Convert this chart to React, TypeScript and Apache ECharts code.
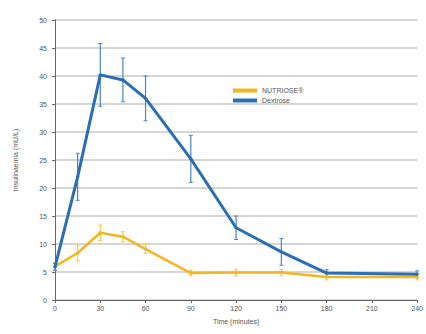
import React, { useEffect, useRef } from "react";
import * as echarts from "echarts";

const times = [0, 15, 30, 45, 60, 90, 120, 150, 180, 240];
const nutriose = [6, 8.4, 12, 11.3, 9.1, 4.8, 4.9, 4.9, 4.1, 4.1];
const nutrioseErr = [0.6, 1.4, 1.4, 0.9, 0.8, 0.5, 0.6, 0.6, 0.5, 0.5];
const dextrose = [5.9, 22, 40.2, 39.3, 36, 25.2, 12.9, 8.6, 4.8, 4.6];
const dextroseErr = [0.6, 4.2, 5.6, 3.9, 4.0, 4.2, 2.1, 2.4, 0.6, 0.6];
const xTicks = [0, 30, 60, 90, 120, 150, 180, 210, 240];
const seriesNames = ["NUTRIOSE®", "Dextrose"];
const colors = ["#f2b620", "#2a6fb5"];

function errData(vals: number[], errs: number[]) {
  return times.map((t, i) => [t, vals[i] - errs[i], vals[i] + errs[i]]);
}

function errSeries(vals: number[], errs: number[], color: string) {
  return {
    type: "custom",
    data: errData(vals, errs),
    z: 1,
    silent: true,
    renderItem: (params: any, api: any) => {
      const x = api.value(0);
      const lo = api.coord([x, api.value(1)]);
      const hi = api.coord([x, api.value(2)]);
      return {
        type: "group",
        children: [
          { type: "line", shape: { x1: lo[0], y1: lo[1], x2: hi[0], y2: hi[1] }, style: { stroke: color, lineWidth: 1.2 } },
          { type: "line", shape: { x1: lo[0] - 2, y1: lo[1], x2: lo[0] + 2, y2: lo[1] }, style: { stroke: color, lineWidth: 1 } },
          { type: "line", shape: { x1: hi[0] - 2, y1: hi[1], x2: hi[0] + 2, y2: hi[1] }, style: { stroke: color, lineWidth: 1 } },
        ],
      };
    },
  };
}

export default function App() {
  const ref = useRef<HTMLDivElement>(null);
  useEffect(() => {
    if (!ref.current) return;
    const chart = echarts.init(ref.current, null, { renderer: "svg" });
    const font = "Liberation Sans, Arial, sans-serif";
    chart.setOption({
      animation: false,
      textStyle: { fontFamily: font },
      grid: { left: 55, right: 8, top: 20, bottom: 34, containLabel: false },
      legend: {
        data: seriesNames,
        orient: "vertical",
        left: 228,
        top: 82,
        itemWidth: 24,
        itemHeight: 4,
        itemGap: 3,
        icon: "rect",
        textStyle: { fontSize: 7, color: "#555", fontFamily: font },
      },
      xAxis: {
        type: "value",
        min: 0,
        max: 240,
        interval: 30,
        name: "Time (minutes)",
        nameLocation: "middle",
        nameGap: 18,
        nameTextStyle: { fontSize: 7, color: "#555" },
        axisLine: { show: true, lineStyle: { color: "#666", width: 1 } },
        axisTick: { show: true, length: 3, inside: false, lineStyle: { color: "#666" } },
        axisLabel: {
          fontSize: 7,
          color: "#555",
          margin: 5,
          formatter: (v: number) => (xTicks.includes(v) ? String(v) : ""),
        },
        splitLine: { show: false },
      },
      yAxis: {
        type: "value",
        min: 0,
        max: 50,
        interval: 5,
        name: "Insulinaemia (mU/L)",
        nameLocation: "middle",
        nameGap: 36,
        nameTextStyle: { fontSize: 7, color: "#555" },
        axisLine: { show: true, lineStyle: { color: "#666", width: 1 } },
        axisTick: { show: true, length: 3, lineStyle: { color: "#666" } },
        axisLabel: { fontSize: 7, color: "#555", margin: 8 },
        splitLine: { show: true, lineStyle: { color: "#d6d6d6", width: 2 } },
      },
      series: [
        errSeries(nutriose, nutrioseErr, "#f5c94d"),
        errSeries(dextrose, dextroseErr, "#4a86c6"),
        {
          name: seriesNames[0],
          type: "line",
          data: times.map((t, i) => [t, nutriose[i]]),
          color: colors[0],
          lineStyle: { width: 2.5, color: colors[0] },
          symbol: "diamond",
          symbolSize: 4,
          itemStyle: { color: colors[0] },
          z: 3,
        },
        {
          name: seriesNames[1],
          type: "line",
          data: times.map((t, i) => [t, dextrose[i]]),
          color: colors[1],
          lineStyle: { width: 3, color: colors[1] },
          symbol: "diamond",
          symbolSize: 4,
          itemStyle: { color: colors[1] },
          z: 4,
        },
      ],
    });
    return () => chart.dispose();
  }, []);
  return <div ref={ref} style={{ width: 426, height: 334, position: "absolute", left: 0, top: 0 }} />;
}
